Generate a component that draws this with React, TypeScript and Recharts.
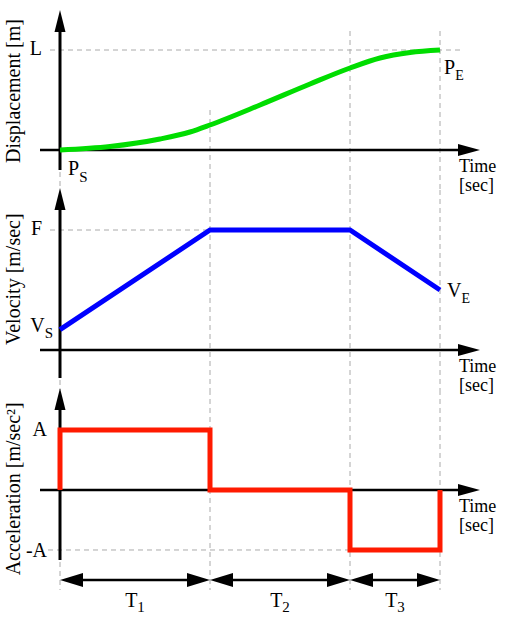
import { Line, LineChart, ReferenceDot, ReferenceLine, XAxis, YAxis } from "recharts";

const FONT = '"Liberation Serif", "Times New Roman", serif';

// phase boundaries on the time axis (T1, T2, T3 end)
const phaseEnds = [3.0, 5.8, 7.6];
const phaseNames = ["1", "2", "3"];

// displacement, L = 1
const dispTime = [0, 1.0, 2.0, 2.6, 3.0, 4.0, 5.0, 5.8, 6.4, 7.0, 7.6];
const dispValue = [0, 0.035, 0.11, 0.18, 0.25, 0.45, 0.66, 0.82, 0.92, 0.975, 1.0];

// velocity, F = 1
const velTime = [0, 3.0, 5.8, 7.6];
const velValue = [0.17, 1, 1, 0.5];

// acceleration, A = 1
const accTime = [0, 0, 3.0, 3.0, 5.8, 5.8, 7.6, 7.6];
const accValue = [0, 1, 1, 0, 0, -1, -1, 0];

const dispData = dispTime.map((t, i) => ({ t, v: dispValue[i] }));
const velData = velTime.map((t, i) => ({ t, v: velValue[i] }));
const accData = accTime.map((t, i) => ({ t, v: accValue[i] }));
const phaseStarts = [0, ...phaseEnds.slice(0, -1)];
const tEnd = phaseEnds[phaseEnds.length - 1];

const X_DOMAIN: [number, number] = [-1.2, 8.4];
const MARGIN = { top: 0, right: 40, bottom: 0, left: 0 };

function TimeAxis(props: any) {
  const { x1, y1, x2, y2 } = props;
  return (
    <g>
      <line x1={x1} y1={y1} x2={x2 - 14} y2={y2} stroke="#000" strokeWidth={2.5} />
      <polygon
        points={`${x2},${y2} ${x2 - 22},${y2 - 6} ${x2 - 22},${y2 + 6}`}
        fill="#000"
      />
      <text x={x2 - 21} y={y2 + 22} fontFamily={FONT} fontSize={18} fill="#000">
        Time
      </text>
      <text x={x2 - 21} y={y2 + 41} fontFamily={FONT} fontSize={18} fill="#000">
        [sec]
      </text>
    </g>
  );
}

function ValueAxis(props: any) {
  const { x1, y1, x2, y2 } = props;
  return (
    <g>
      <line x1={x1} y1={y1} x2={x2} y2={y2 + 14} stroke="#000" strokeWidth={3} />
      <polygon
        points={`${x2},${y2} ${x2 - 5.5},${y2 + 22} ${x2 + 5.5},${y2 + 22}`}
        fill="#000"
      />
    </g>
  );
}

function Guide(props: any) {
  const { x1, y1, x2, y2 } = props;
  return (
    <line
      x1={x1}
      y1={y1}
      x2={x2}
      y2={y2}
      stroke="#aaaaaa"
      strokeWidth={1}
      strokeDasharray="5 4"
    />
  );
}

function SpanArrow(props: any) {
  const { x1, y1, x2, y2 } = props;
  const h = 23;
  const w = 7;
  return (
    <g>
      <line x1={x1 + h - 2} y1={y1} x2={x2 - h + 2} y2={y2} stroke="#000" strokeWidth={2.5} />
      <polygon points={`${x1},${y1} ${x1 + h},${y1 - w} ${x1 + h},${y1 + w}`} fill="#000" />
      <polygon points={`${x2},${y2} ${x2 - h},${y2 - w} ${x2 - h},${y2 + w}`} fill="#000" />
    </g>
  );
}

function Mark({
  cx,
  cy,
  main,
  sub,
  dx,
  dy,
  anchor = "start",
  subSize = 15,
  subDy = 6,
}: any) {
  return (
    <text
      x={cx + dx}
      y={cy + dy}
      textAnchor={anchor}
      fontFamily={FONT}
      fontSize={20}
      fill="#000"
    >
      {main}
      {sub && (
        <tspan fontSize={subSize} dy={subDy}>
          {sub}
        </tspan>
      )}
    </text>
  );
}

function Title({ cx, cy, text }: any) {
  return (
    <text
      x={cx}
      y={cy}
      transform={`rotate(-90 ${cx} ${cy})`}
      textAnchor="middle"
      fontFamily={FONT}
      fontSize={20}
      fill="#000"
    >
      {text}
    </text>
  );
}

export default function App() {
  return (
    <div
      style={{
        position: "absolute",
        left: 0,
        top: 0,
        width: 520,
        height: 620,
        background: "#fff",
      }}
    >
      {/* Displacement */}
      <div style={{ position: "absolute", left: 0, top: 0 }}>
        <LineChart width={520} height={200} data={dispData} margin={MARGIN}>
          <XAxis type="number" dataKey="t" domain={X_DOMAIN} hide allowDataOverflow />
          <YAxis type="number" domain={[-0.5, 1.5]} hide allowDataOverflow />

          <ReferenceLine segment={[{ x: 0, y: -0.22 }, { x: 0, y: -0.4 }]} shape={Guide} />
          {phaseEnds.map((t, i) => (
            <ReferenceLine
              key={t}
              segment={[{ x: t, y: i === 0 ? 0.4 : 1.19 }, { x: t, y: -0.4 }]}
              shape={Guide}
            />
          ))}
          <ReferenceLine segment={[{ x: -0.2, y: 1 }, { x: 8.0, y: 1 }]} shape={Guide} />

          <ReferenceLine segment={[{ x: -0.4, y: 0 }, { x: 8.4, y: 0 }]} shape={TimeAxis} />
          <ReferenceLine segment={[{ x: 0, y: -0.2 }, { x: 0, y: 1.4 }]} shape={ValueAxis} />

          <ReferenceDot x={-0.8} y={0.59} r={0} ifOverflow="visible"
            shape={(p: any) => <Title {...p} text="Displacement [m]" />} />
          <ReferenceDot x={0} y={1} r={0} ifOverflow="visible"
            shape={(p: any) => <Mark {...p} main="L" dx={-18} dy={5} anchor="end" />} />
          <ReferenceDot x={0} y={dispValue[0]} r={0} ifOverflow="visible"
            shape={(p: any) => <Mark {...p} main="P" sub="S" dx={8} dy={25} subDy={7} />} />
          <ReferenceDot x={tEnd} y={dispValue[dispValue.length - 1]} r={0} ifOverflow="visible"
            shape={(p: any) => <Mark {...p} main="P" sub="E" dx={4} dy={24} subSize={14} />} />

          <Line
            dataKey="v"
            type="monotone"
            stroke="#00dd00"
            strokeWidth={5}
            dot={false}
            activeDot={false}
            isAnimationActive={false}
          />
        </LineChart>
      </div>

      {/* Velocity */}
      <div style={{ position: "absolute", left: 0, top: 180 }}>
        <LineChart width={520} height={230} data={velData} margin={MARGIN}>
          <XAxis type="number" dataKey="t" domain={X_DOMAIN} hide allowDataOverflow />
          <YAxis type="number" domain={[-0.5, 1.4167]} hide allowDataOverflow />

          <ReferenceLine segment={[{ x: 0, y: -0.25 }, { x: 0, y: -0.3333 }]} shape={Guide} />
          {phaseEnds.map((t) => (
            <ReferenceLine
              key={t}
              segment={[{ x: t, y: 1.3333 }, { x: t, y: -0.3333 }]}
              shape={Guide}
            />
          ))}
          <ReferenceLine segment={[{ x: -0.2, y: 1 }, { x: phaseEnds[0], y: 1 }]} shape={Guide} />

          <ReferenceLine segment={[{ x: -0.4, y: 0 }, { x: 8.4, y: 0 }]} shape={TimeAxis} />
          <ReferenceLine segment={[{ x: 0, y: -0.2333 }, { x: 0, y: 1.35 }]} shape={ValueAxis} />

          <ReferenceDot x={-0.8} y={0.59} r={0} ifOverflow="visible"
            shape={(p: any) => <Title {...p} text="Velocity [m/sec]" />} />
          <ReferenceDot x={0} y={1} r={0} ifOverflow="visible"
            shape={(p: any) => <Mark {...p} main="F" dx={-18} dy={5} anchor="end" />} />
          <ReferenceDot x={0} y={velValue[0]} r={0} ifOverflow="visible"
            shape={(p: any) => <Mark {...p} main="V" sub="S" dx={-7} dy={2} anchor="end" />} />
          <ReferenceDot x={tEnd} y={velValue[velValue.length - 1]} r={0} ifOverflow="visible"
            shape={(p: any) => <Mark {...p} main="V" sub="E" dx={7} dy={7} subSize={14} />} />

          <Line
            dataKey="v"
            type="linear"
            stroke="#0000ff"
            strokeWidth={5}
            dot={false}
            activeDot={false}
            isAnimationActive={false}
          />
        </LineChart>
      </div>

      {/* Acceleration */}
      <div style={{ position: "absolute", left: 0, top: 380 }}>
        <LineChart width={520} height={240} data={accData} margin={MARGIN}>
          <XAxis type="number" dataKey="t" domain={X_DOMAIN} hide allowDataOverflow />
          <YAxis type="number" domain={[-2.1667, 1.8333]} hide allowDataOverflow />

          <ReferenceLine segment={[{ x: 0, y: -1.2 }, { x: 0, y: -1.6667 }]} shape={Guide} />
          {phaseEnds.map((t) => (
            <ReferenceLine
              key={t}
              segment={[{ x: t, y: 1.6667 }, { x: t, y: -1.6667 }]}
              shape={Guide}
            />
          ))}
          <ReferenceLine segment={[{ x: -0.24, y: -1 }, { x: phaseEnds[1], y: -1 }]} shape={Guide} />

          <ReferenceLine segment={[{ x: -0.4, y: 0 }, { x: 8.4, y: 0 }]} shape={TimeAxis} />
          <ReferenceLine segment={[{ x: 0, y: -1.1667 }, { x: 0, y: 1.7 }]} shape={ValueAxis} />

          {phaseEnds.map((t, i) => (
            <ReferenceLine
              key={`span-${t}`}
              segment={[{ x: phaseStarts[i], y: -1.5 }, { x: t, y: -1.5 }]}
              shape={SpanArrow}
            />
          ))}
          {phaseEnds.map((t, i) => (
            <ReferenceDot
              key={`lab-${t}`}
              x={(phaseStarts[i] + t) / 2}
              y={-1.5}
              r={0}
              ifOverflow="visible"
              shape={(p: any) => (
                <Mark {...p} main="T" sub={phaseNames[i]} dx={0} dy={27} anchor="middle" subDy={5} />
              )}
            />
          ))}

          <ReferenceDot x={-0.8} y={0.02} r={0} ifOverflow="visible"
            shape={(p: any) => <Title {...p} text="Acceleration [m/sec²]" />} />
          <ReferenceDot x={0} y={1} r={0} ifOverflow="visible"
            shape={(p: any) => <Mark {...p} main="A" dx={-13} dy={6} anchor="end" />} />
          <ReferenceDot x={0} y={-1} r={0} ifOverflow="visible"
            shape={(p: any) => <Mark {...p} main="-A" dx={-13} dy={7} anchor="end" />} />

          <Line
            dataKey="v"
            type="linear"
            stroke="#ff1a00"
            strokeWidth={5}
            strokeLinejoin="miter"
            strokeLinecap="butt"
            dot={false}
            activeDot={false}
            isAnimationActive={false}
          />
        </LineChart>
      </div>
    </div>
  );
}
